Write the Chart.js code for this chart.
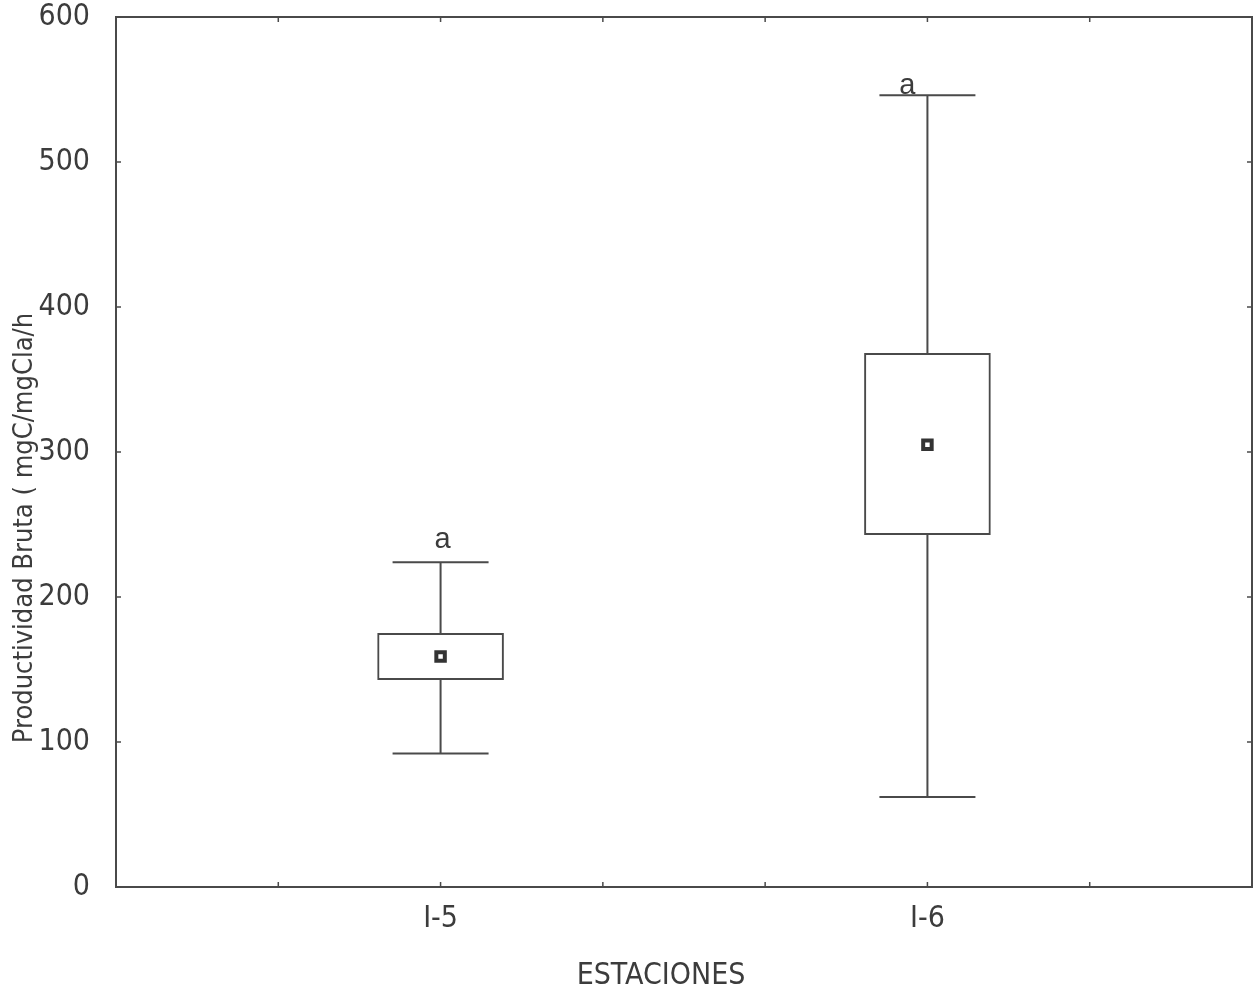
<!DOCTYPE html>
<html>
<head>
<meta charset="utf-8">
<script src="https://cdn.jsdelivr.net/npm/chart.js@4.4.1/dist/chart.umd.min.js"></script>
<style>
  html, body { margin: 0; padding: 0; background: #fff; }
  #wrap { width: 1254px; height: 996px; }
</style>
</head>
<body>
<div id="wrap"><canvas id="chart" width="1254" height="996"></canvas></div>
<script>
// --- datos ---
const stations    = ["I-5", "I-6"];
const whiskerLow  = [92, 62];
const q1          = [143, 243];
const median      = [159, 305];
const q3          = [175, 368];
const whiskerHigh = [224, 546];
const letters     = ["a", "a"];
const yTicks      = [0, 100, 200, 300, 400, 500, 600];

const INK = "#4a4a4a";
const TXT = "#3c3c3c";
const NARROW = "'Liberation Sans Narrow', 'DejaVu Sans Condensed', 'Liberation Sans', sans-serif";

// posición de cada estación en el eje x (1, 2)
const xs = stations.map((_, i) => i + 1);

const boxPlugin = {
  id: "boxPlot",
  beforeDatasetsDraw(chart) {
    const { ctx, scales: { x, y } } = chart;
    ctx.save();
    ctx.strokeStyle = INK;
    ctx.lineWidth = 2;
    xs.forEach((v, i) => {
      const px = x.getPixelForValue(v);
      const capHalf = 48;
      ctx.beginPath();
      ctx.moveTo(px, y.getPixelForValue(whiskerLow[i]));
      ctx.lineTo(px, y.getPixelForValue(whiskerHigh[i]));
      // bigotes
      ctx.moveTo(px - capHalf, y.getPixelForValue(whiskerHigh[i]));
      ctx.lineTo(px + capHalf, y.getPixelForValue(whiskerHigh[i]));
      ctx.moveTo(px - capHalf, y.getPixelForValue(whiskerLow[i]));
      ctx.lineTo(px + capHalf, y.getPixelForValue(whiskerLow[i]));
      ctx.stroke();
    });
    ctx.restore();
  },
  afterDatasetsDraw(chart) {
    const { ctx, chartArea: a, scales: { x, y } } = chart;
    ctx.save();
    // marco
    ctx.strokeStyle = INK;
    ctx.lineWidth = 2;
    ctx.strokeRect(a.left, a.top, a.right - a.left, a.bottom - a.top);
    // marcas internas
    ctx.lineWidth = 1.5;
    ctx.beginPath();
    yTicks.forEach(t => {
      const py = y.getPixelForValue(t);
      ctx.moveTo(a.left, py); ctx.lineTo(a.left + 5, py);
      ctx.moveTo(a.right, py); ctx.lineTo(a.right - 5, py);
    });
    x.ticks.forEach(t => {
      const px = x.getPixelForValue(t.value);
      ctx.moveTo(px, a.bottom); ctx.lineTo(px, a.bottom - 5);
      ctx.moveTo(px, a.top); ctx.lineTo(px, a.top + 5);
    });
    ctx.stroke();

    // letras de significancia
    ctx.fillStyle = TXT;
    ctx.font = "29px 'Liberation Sans', 'DejaVu Sans', sans-serif";
    ctx.textAlign = "center";
    ctx.textBaseline = "alphabetic";
    const dx = [2, -20], dy = [-14, -1];
    letters.forEach((l, i) => {
      ctx.fillText(l, x.getPixelForValue(xs[i]) + dx[i], y.getPixelForValue(whiskerHigh[i]) + dy[i]);
    });

    // títulos de ejes
    ctx.textBaseline = "middle";
    ctx.font = "30px " + NARROW;
    ctx.fillText("ESTACIONES", 661, 976);
    ctx.font = "27px " + NARROW;
    ctx.translate(25, 528);
    ctx.rotate(-Math.PI / 2);
    ctx.fillText("Productividad Bruta ( mgC/mgCla/h", 0, 0);
    ctx.restore();
  }
};

new Chart(document.getElementById("chart"), {
  data: {
    datasets: [
      {
        type: "bar",
        data: xs.map((v, i) => ({ x: v, y: [q1[i], q3[i]] })),
        backgroundColor: "#ffffff",
        borderColor: INK,
        borderWidth: 2,
        borderSkipped: false,
        barThickness: 126,
        order: 2
      },
      {
        type: "scatter",
        data: xs.map((v, i) => ({ x: v, y: median[i] })),
        pointStyle: "rect",
        pointRadius: 6,
        backgroundColor: "#ffffff",
        borderColor: "#333333",
        borderWidth: 4,
        order: 1
      }
    ]
  },
  options: {
    responsive: false,
    animation: false,
    layout: { autoPadding: false, padding: { top: 17, right: 2, left: 0, bottom: 0 } },
    plugins: { legend: { display: false }, tooltip: { enabled: false } },
    scales: {
      x: {
        type: "linear",
        min: 1 / 3,
        max: 8 / 3,
        offset: false,
        grid: { display: false, drawTicks: false, offset: false },
        border: { display: false },
        afterBuildTicks(scale) {
          scale.ticks = [2, 3, 4, 5, 6, 7].map(k => ({ value: k / 3 }));
        },
        ticks: {
          padding: 14,
          color: TXT,
          font: { family: NARROW, size: 30 },
          callback(v) {
            const r = Math.round(v);
            return Math.abs(v - r) < 1e-6 && stations[r - 1] ? stations[r - 1] : "";
          }
        },
        afterFit(scale) {
          scale.height = 109;
          scale.paddingLeft = 0; scale.paddingRight = 0;
        }
      },
      y: {
        min: 0,
        max: 600,
        grid: { display: false, drawTicks: false },
        border: { display: false },
        ticks: {
          stepSize: 100,
          padding: 26,
          color: TXT,
          font: { family: NARROW, size: 30 }
        },
        afterFit(scale) {
          scale.width = 116;
          scale.paddingTop = 0; scale.paddingBottom = 0;
        }
      }
    }
  },
  plugins: [boxPlugin]
});
</script>
</body>
</html>
